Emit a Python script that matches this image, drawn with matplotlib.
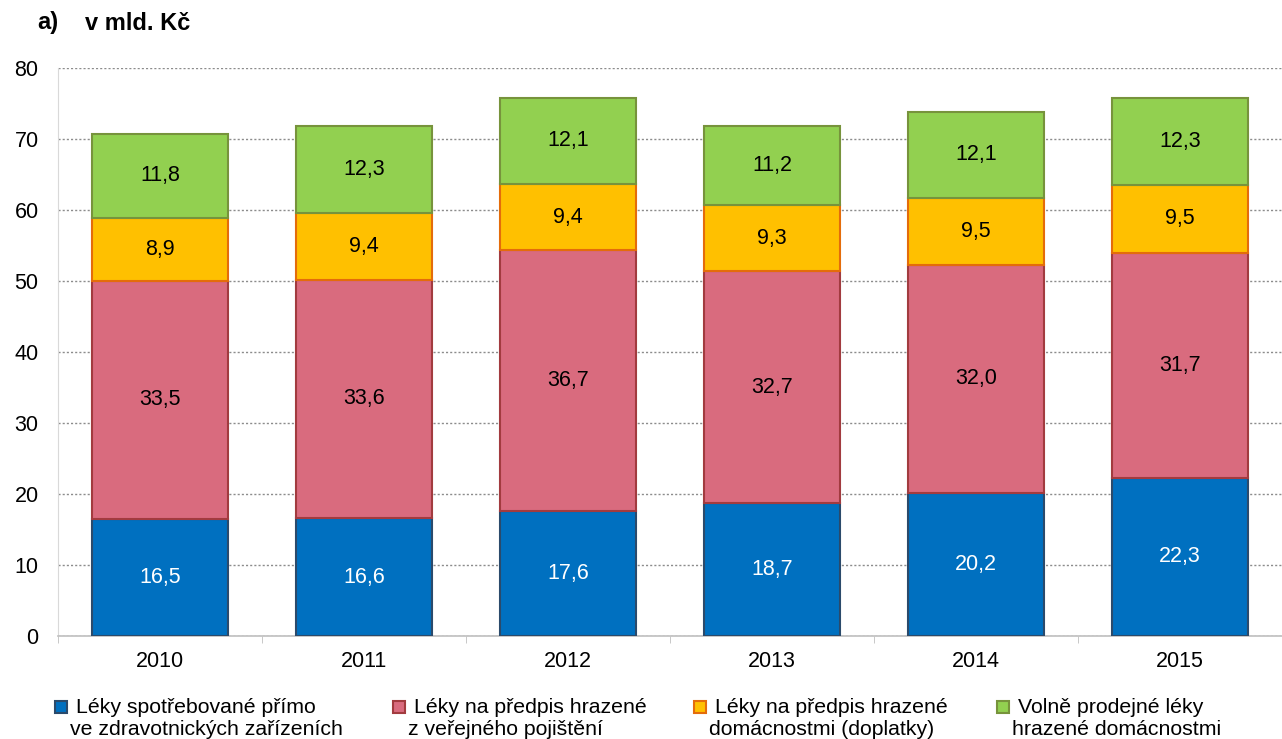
import matplotlib.pyplot as plt
from matplotlib.patches import Rectangle
import numpy as np

plt.rcParams['font.family'] = ['Liberation Sans', 'DejaVu Sans']

years = ["2010", "2011", "2012", "2013", "2014", "2015"]
primo = [16.5, 16.6, 17.6, 18.7, 20.2, 22.3]
predpis_verejne = [33.5, 33.6, 36.7, 32.7, 32.0, 31.7]
doplatky = [8.9, 9.4, 9.4, 9.3, 9.5, 9.5]
volne = [11.8, 12.3, 12.1, 11.2, 12.1, 12.3]

series = [primo, predpis_verejne, doplatky, volne]
labels = [("Léky spotřebované přímo", "ve zdravotnických zařízeních"),
          ("Léky na předpis hrazené", "z veřejného pojištění"),
          ("Léky na předpis hrazené", "domácnostmi (doplatky)"),
          ("Volně prodejné léky", "hrazené domácnostmi")]
fills = ["#0070c0", "#d96b7e", "#ffc000", "#92d050"]
edges = ["#2b4a6b", "#a23b3f", "#e46c0a", "#77933c"]
text_cols = ["white", "black", "black", "black"]

W, H = 1282, 739
fig = plt.figure(figsize=(W / 100, H / 100), dpi=100)
ax = fig.add_axes([58 / W, 1 - 636 / H, 1 - 58 / W, (636 - 68) / H])

x = np.arange(len(years))
bottom = np.zeros(len(years))
for vals, fc, ec, tc in zip(series, fills, edges, text_cols):
    ax.bar(x, vals, width=0.67, bottom=bottom, color=fc, edgecolor=ec,
           linewidth=1.5, zorder=3)
    for xi, b, v in zip(x, bottom, vals):
        ax.text(xi, b + v / 2, f"{v:.1f}".replace(".", ","), ha="center", va="center",
                fontsize=15.5, color=tc, zorder=4)
    bottom = bottom + np.array(vals)

ax.set_xlim(-0.5, len(years) - 0.5)
ax.set_ylim(0, 80)
ax.set_yticks(range(0, 81, 10))
ax.set_xticks(x)
ax.set_xticklabels(years)
ax.set_xticks(np.arange(-0.5, len(years), 1.0), minor=True)
ax.tick_params(axis="x", which="major", length=0, pad=11, labelsize=15.5)
ax.tick_params(axis="x", which="minor", length=5, color="#bfbfbf")
ax.tick_params(axis="y", length=0, pad=14, labelsize=15.5)
ax.grid(axis="y", linestyle=(0, (1.5, 1.5)), color="#8c8c8c", linewidth=1, zorder=0)
for s in ["top", "right"]:
    ax.spines[s].set_visible(False)
ax.spines["left"].set_color("#d9d9d9")
ax.spines["bottom"].set_color("#bfbfbf")
ax.spines["bottom"].set_linewidth(1.2)

# title
fig.text(37 / W, 1 - 23 / H, "a)", fontsize=17, fontweight="bold", va="center")
fig.text(85 / W, 1 - 23 / H, "v mld. Kč", fontsize=17, fontweight="bold", va="center")

# legend, drawn by hand so the marker sits next to the first line
marker_x = [55, 393, 694, 997]
for mx, (l1, l2), fc, ec in zip(marker_x, labels, fills, edges):
    fig.add_artist(Rectangle((mx / W, 1 - 713 / H), 12 / W, 12 / H,
                             transform=fig.transFigure, facecolor=fc,
                             edgecolor=ec, linewidth=1.5))
    fig.text((mx + 21) / W, 1 - 713 / H, l1, fontsize=15.3, va="baseline")
    fig.text((mx + 15) / W, 1 - 735 / H, l2, fontsize=15.3, va="baseline")

fig.savefig("out.png", dpi=100)
